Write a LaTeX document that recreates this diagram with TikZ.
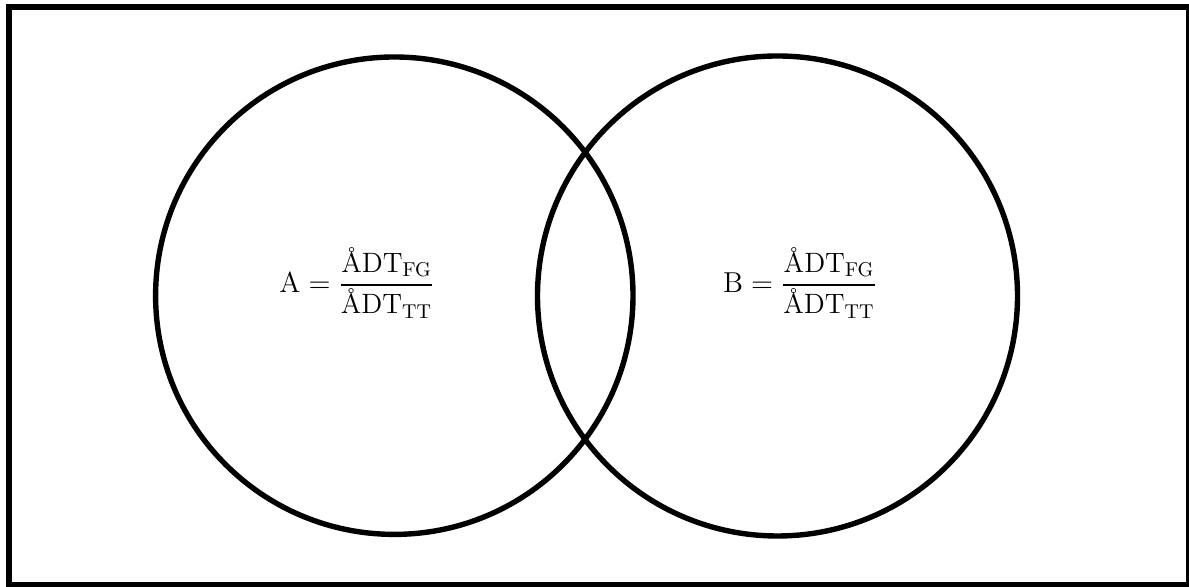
\documentclass[tikz,border=0pt]{standalone}
\usepackage{amsmath}

\begin{document}
\begin{tikzpicture}[x=0.5pt, y=0.5pt,
	setcirc/.style={draw, circle, line width=2.7pt, inner sep=0pt},
	ratio/.style={font=\fontsize{14}{16}\selectfont}]
			\useasboundingbox (0,0) rectangle (1189,587);
			\draw[line width=3pt] (8.7,579.8) rectangle (1189,2);
			\node[setcirc, minimum size=238.7pt] (circA) at (394.3,291.3) {};
			\node[setcirc, minimum size=240pt] (circB) at (777.5,291) {};
			\node[ratio] (labA) at (357,304) {$\mathrm{A}=\dfrac{\text{ÅDT}_{\mathrm{FG}}}{\text{ÅDT}_{\mathrm{TT}}}$};
			\node[ratio] (labB) at (800,304) {$\mathrm{B}=\dfrac{\text{ÅDT}_{\mathrm{FG}}}{\text{ÅDT}_{\mathrm{TT}}}$};
		\end{tikzpicture}
\end{document}
